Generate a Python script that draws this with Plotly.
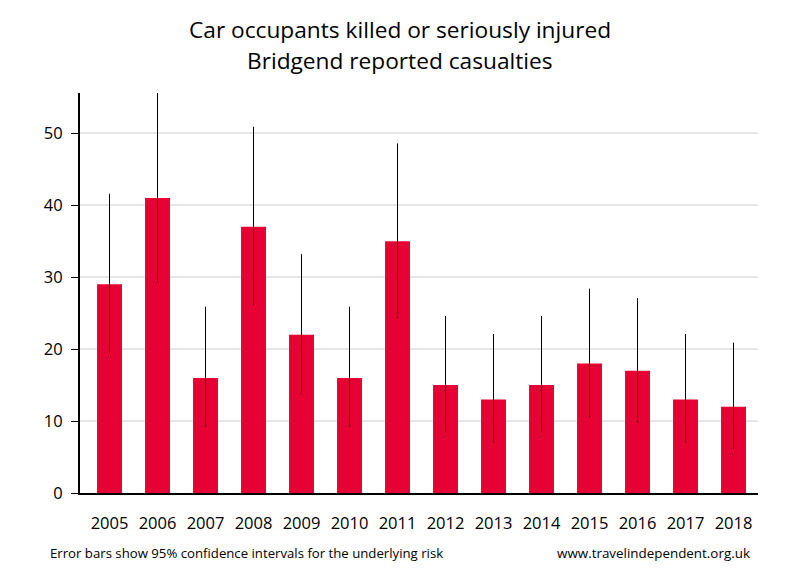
import plotly.graph_objects as go

years = ["2005", "2006", "2007", "2008", "2009", "2010", "2011",
         "2012", "2013", "2014", "2015", "2016", "2017", "2018"]
casualties = [29, 41, 16, 37, 22, 16, 35, 15, 13, 15, 18, 17, 13, 12]
ci_upper = [41.6, 55.6, 25.9, 50.9, 33.2, 25.9, 48.6, 24.6, 22.1, 24.6, 28.4, 27.1, 22.1, 20.9]
ci_lower = [19.4, 29.3, 9.1, 26.0, 13.7, 9.1, 24.3, 8.3, 6.9, 8.3, 10.6, 9.8, 6.9, 6.1]

title_lines = ["Car occupants killed or seriously injured", "Bridgend reported casualties"]
footer_left = "Error bars show 95% confidence intervals for the underlying risk"
footer_right = "www.travelindependent.org.uk"

err_plus = [u - v for u, v in zip(ci_upper, casualties)]
err_minus = [v - l for v, l in zip(casualties, ci_lower)]

FONT = "Open Sans"

fig = go.Figure(go.Bar(
    x=years, y=casualties,
    marker=dict(color="#e60033", line=dict(width=0)),
    width=0.52,
    error_y=dict(type="data", symmetric=False, array=err_plus, arrayminus=err_minus,
                 color="black", thickness=1, width=0),
))

fig.update_layout(
    width=800, height=580,
    margin=dict(l=72, r=50, t=85.3, b=95.3),
    paper_bgcolor="white", plot_bgcolor="white",
    showlegend=False,
    font=dict(family=FONT, color="black", size=16),
    xaxis=dict(type="category", range=[-0.615, 13.51], showgrid=False,
               showline=True, linecolor="black", linewidth=2, ticks="",
               ticklabelstandoff=14, tickfont=dict(size=16.5, family=FONT)),
    yaxis=dict(range=[0, 55.6], tickvals=[0, 10, 20, 30, 40, 50],
               showgrid=True, gridcolor="#e6e6e6", gridwidth=1.5,
               showline=True, linecolor="black", linewidth=2,
               ticks="outside", ticklen=7, tickcolor="black", tickwidth=1,
               ticklabelstandoff=5, zeroline=False,
               tickfont=dict(size=16.5, family=FONT)),
    annotations=[
        dict(text=title_lines[0], xref="paper", yref="paper", x=0.4720, y=1.1585,
             xanchor="center", yanchor="middle", showarrow=False,
             font=dict(size=22.7, family=FONT, color="black")),
        dict(text=title_lines[1], xref="paper", yref="paper", x=0.4720, y=1.081,
             xanchor="center", yanchor="middle", showarrow=False,
             font=dict(size=22.7, family=FONT, color="black")),
        dict(text=footer_left, xref="paper", yref="paper", x=-0.0472, y=-0.151,
             xanchor="left", yanchor="middle", showarrow=False,
             font=dict(size=13.2, family=FONT, color="black")),
        dict(text=footer_right, xref="paper", yref="paper", x=0.991, y=-0.151,
             xanchor="right", yanchor="middle", showarrow=False,
             font=dict(size=13.4, family=FONT, color="black")),
    ],
)

fig.write_html("out.html")
